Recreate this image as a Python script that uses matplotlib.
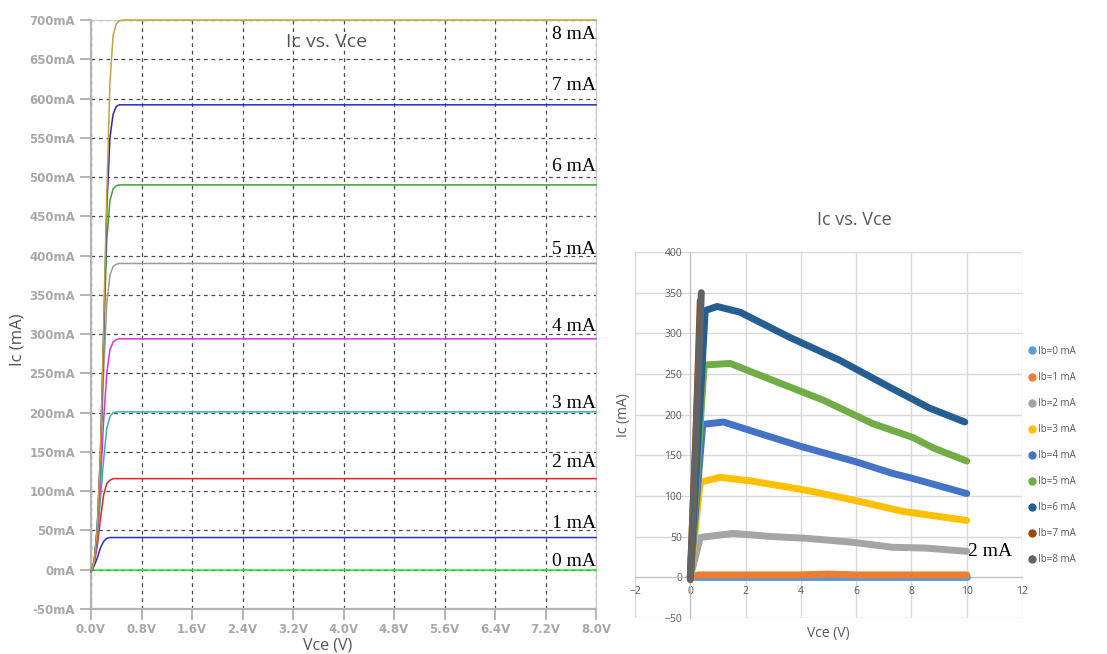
import matplotlib
matplotlib.use("Agg")
import matplotlib.pyplot as plt
from matplotlib.lines import Line2D

# ---------------- data: left (simulation) ----------------
sim_vce = [0.0, 0.05, 0.10, 0.15, 0.20, 0.25, 0.30, 0.35, 0.40, 0.45, 0.50, 0.60, 8.0]
sim_labels = ["0 mA", "1 mA", "2 mA", "3 mA", "4 mA", "5 mA", "6 mA", "7 mA", "8 mA"]
sim_ic = [
    [0, 0, 0, 0, 0, 0, 0, 0, 0, 0, 0, 0, 0],
    [-3, 5, 15, 28, 36, 40, 41, 41, 41, 41, 41, 41, 41],
    [-3, 8, 30, 65, 95, 110, 114, 116, 116, 116, 116, 116, 116],
    [-3, 10, 40, 90, 140, 180, 195, 200, 201, 201, 201, 201, 201],
    [-3, 10, 45, 110, 190, 250, 280, 290, 293, 294, 294, 294, 294],
    [-3, 10, 50, 130, 250, 340, 375, 386, 389, 390, 390, 390, 390],
    [-3, 10, 55, 140, 290, 420, 470, 485, 489, 490, 490, 490, 490],
    [-3, 10, 55, 150, 300, 460, 550, 580, 590, 592, 592, 592, 592],
    [-3, 10, 55, 150, 310, 480, 620, 680, 695, 699, 700, 700, 700],
]
sim_colors = ["#22E622", "#2A2AE0", "#E52222", "#33B5B5", "#E030E0",
              "#9A9A9A", "#35A035", "#2828C0", "#C9A03A"]
sim_xticks = [0.0, 0.8, 1.6, 2.4, 3.2, 4.0, 4.8, 5.6, 6.4, 7.2, 8.0]
sim_yticks = list(range(-50, 701, 50))

# ---------------- data: right (measured) ----------------
meas_labels = ["Ib=0 mA", "Ib=1 mA", "Ib=2 mA", "Ib=3 mA", "Ib=4 mA",
               "Ib=5 mA", "Ib=6 mA", "Ib=7 mA", "Ib=8 mA"]
meas_colors = ["#5B9BD5", "#ED7D31", "#A5A5A5", "#FFC000", "#4472C4",
               "#70AD47", "#255E91", "#9E480E", "#636363"]
meas_vce = [
    [0.0, 0.3, 2, 4, 6, 8, 10],
    [0.0, 0.3, 2, 4, 5, 6, 8, 10],
    [0.0, 0.36, 1.55, 3.0, 4.2, 5.9, 7.3, 8.5, 10],
    [0.0, 0.36, 1.08, 2.3, 4.2, 5.9, 7.7, 10],
    [0.0, 0.45, 1.2, 2.4, 4.0, 6.0, 7.3, 8.0, 10],
    [0.0, 0.5, 1.44, 3.0, 4.8, 6.6, 8.05, 8.8, 10],
    [0.0, 0.54, 0.97, 1.8, 3.6, 5.4, 7.2, 8.66, 9.93],
    [0.0, 0.2, 0.36],
    [0.0, 0.2, 0.4],
]
meas_ic = [
    [0, 0, 0, 0, 0, 0, 0],
    [0, 3, 3, 3, 4, 3, 3, 3],
    [0, 49, 54, 50, 48, 43, 37, 36, 32],
    [0, 117, 123, 118, 107, 95, 81, 70],
    [0, 188, 191, 178, 161, 142, 128, 122, 103],
    [0, 261, 263, 242, 218, 189, 172, 159, 143],
    [0, 328, 333, 326, 295, 267, 234, 208, 191],
    [0, 170, 340],
    [-3, 170, 350],
]

fig = plt.figure(figsize=(11.07, 6.54), dpi=100)
W, H = 1107, 654

# ================= left chart =================
axL = fig.add_axes([91 / W, (H - 609) / H, (596 - 91) / W, (609 - 20) / H])
for ic, col in zip(sim_ic, sim_colors):
    axL.plot(sim_vce, ic, color=col, lw=1.1, clip_on=False, zorder=3)
axL.set_xlim(0, 8.0)
axL.set_ylim(-50, 700)
axL.set_xticks(sim_xticks)
axL.set_xticklabels([f"{v:.1f}V" for v in sim_xticks])
axL.set_yticks(sim_yticks)
axL.set_yticklabels([f"{v}mA" for v in sim_yticks])
axL.grid(True, color="#4a4a4a", linestyle=(0, (3, 3)), lw=0.9)
axL.tick_params(axis="both", colors="#A8A8A8", length=8, width=1.2,
                labelsize=8.5, labelcolor="#A8A8A8")
axL.tick_params(axis="x", pad=2)
for lab in axL.get_xticklabels() + axL.get_yticklabels():
    lab.set_fontweight("bold")
for s in ["left", "bottom"]:
    axL.spines[s].set_color("#B4B4B4")
    axL.spines[s].set_linewidth(1.6)
axL.spines["right"].set_color("#C8C8C8")
axL.spines["top"].set_color("#C8C8C8")

label_y = [11, 59, 136, 212, 310, 408, 513, 616, 681]
for lab, y in zip(sim_labels, label_y):
    axL.text(8.0, y, lab, ha="right", va="center", fontsize=14,
             family="Liberation Serif", color="black", zorder=5)

fig.text(327 / W, 1 - 42 / H, "Ic vs. Vce", ha="center", va="center",
         fontsize=14, family="Open Sans", color="#555555")
fig.text(18 / W, 1 - 340 / H, "Ic (mA)", rotation=90, ha="center", va="center",
         fontsize=12, family="Open Sans", color="#555555")
fig.text(328 / W, 1 - 645 / H, "Vce (V)", ha="center", va="center",
         fontsize=11.5, family="Open Sans", color="#555555")

# ================= right chart =================
axR = fig.add_axes([635 / W, (H - 618) / H, (1022 - 635) / W, (618 - 252) / H])
for xs, ys, col in zip(meas_vce, meas_ic, meas_colors):
    axR.plot(xs, ys, color=col, lw=5.0, solid_capstyle="round",
             solid_joinstyle="round", zorder=3)
axR.set_xlim(-2, 12)
axR.set_ylim(-50, 400)
axR.set_xticks(range(-2, 13, 2))
axR.set_yticks(range(-50, 401, 50))
axR.grid(True, color="#D9D9D9", lw=1.0)
axR.set_axisbelow(True)
for s in ["top", "right"]:
    axR.spines[s].set_visible(False)
axR.spines["left"].set_position(("data", 0))
axR.spines["bottom"].set_position(("data", 0))
axR.spines["left"].set_color("#BFBFBF")
axR.spines["bottom"].set_color("#BFBFBF")
axR.spines["left"].set_zorder(1)
axR.spines["bottom"].set_zorder(1)
axR.tick_params(length=0, labelsize=7.5, labelcolor="#595959", pad=6)
for lab in axR.get_xticklabels() + axR.get_yticklabels():
    lab.set_family("Open Sans")

axR.text(10.05, 32, "2 mA", ha="left", va="center", fontsize=14,
         family="Liberation Serif", color="black", zorder=5)

fig.text(854 / W, 1 - 220 / H, "Ic vs. Vce", ha="center", va="center",
         fontsize=13, family="Open Sans", color="#595959")
fig.text(624 / W, 1 - 415 / H, "Ic (mA)", rotation=90, ha="center", va="center",
         fontsize=10, family="Open Sans", color="#595959")
fig.text(828 / W, 1 - 634 / H, "Vce (V)", ha="center", va="center",
         fontsize=10, family="Open Sans", color="#595959")

handles = [Line2D([], [], marker="o", linestyle="none", markersize=5,
                  markerfacecolor=c, markeredgecolor=c) for c in meas_colors]
leg = fig.legend(handles, meas_labels, loc="upper left",
                 bbox_to_anchor=(1024 / W, 1 - 342 / H), frameon=False,
                 fontsize=7, labelcolor="#595959", handlelength=0.8,
                 handletextpad=0.2, labelspacing=1.55, borderaxespad=0)
for t in leg.get_texts():
    t.set_family("Open Sans")

fig.savefig("out.png", dpi=100)
